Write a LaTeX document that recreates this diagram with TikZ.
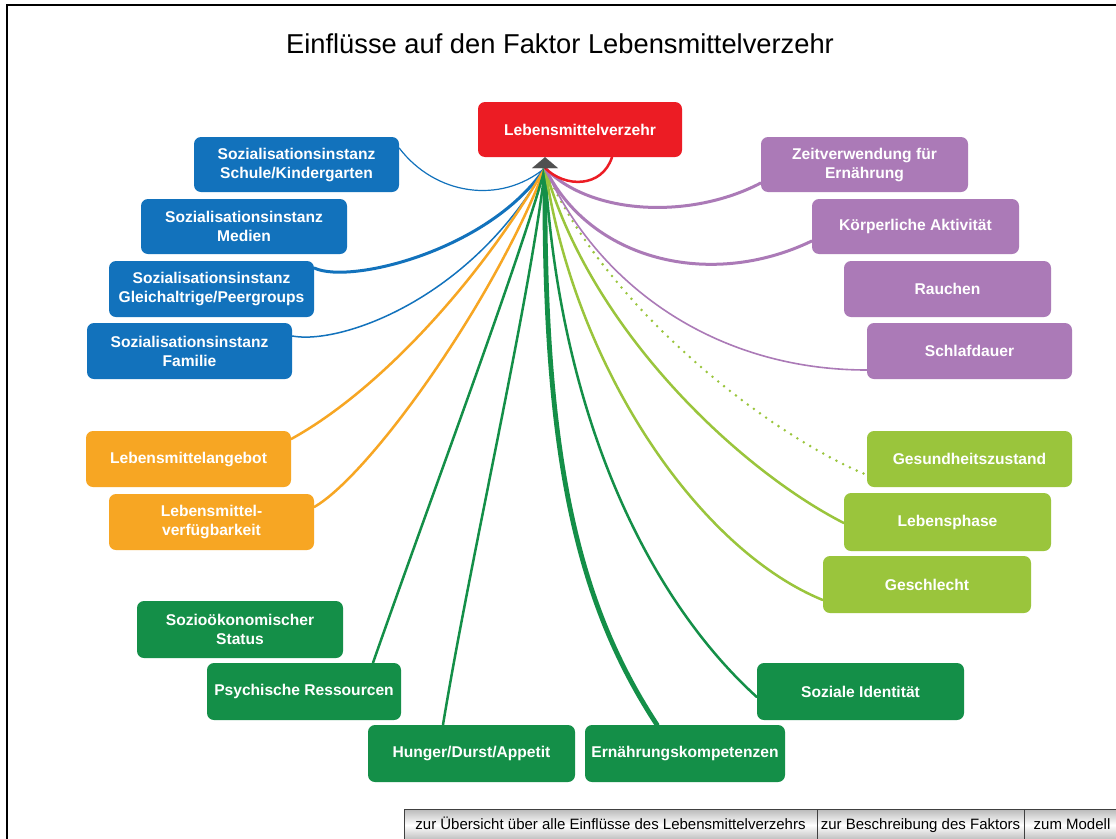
\documentclass[tikz,border=0pt]{standalone}
\usepackage{fontspec}
\setmainfont{Liberation Sans}
\usetikzlibrary{arrows.meta}

\definecolor{cred}{RGB}{236,28,36}
\definecolor{cblue}{RGB}{18,114,188}
\definecolor{cpurple}{RGB}{171,122,183}
\definecolor{corange}{RGB}{247,166,35}
\definecolor{clgreen}{RGB}{154,197,60}
\definecolor{cdgreen}{RGB}{20,143,72}
\definecolor{arrowgray}{RGB}{80,80,80}

\tikzset{
  box/.style={rounded corners=7pt, inner sep=0pt, minimum width=205pt, minimum height=56pt,
    text=white, align=center, font=\fontsize{15.6}{19}\selectfont\bfseries},
  bluebox/.style={box, fill=cblue},
  redbox/.style={box, fill=cred},
  purplebox/.style={box, fill=cpurple},
  orangebox/.style={box, fill=corange},
  lgreenbox/.style={box, fill=clgreen},
  dgreenbox/.style={box, fill=cdgreen},
  link/.style={line cap=round},
  button/.style={draw=black!75, line width=1pt, inner sep=0pt, minimum height=32pt,
    text height=11pt, text depth=3pt,
    top color=gray!55, bottom color=gray!55, middle color=white,
    font=\fontsize{15}{18}\selectfont, text=black}
}

\begin{document}
\begin{tikzpicture}[x=1pt, y=-1pt]
\useasboundingbox (0,0) rectangle (1116,838);
\fill[white] (0,0) rectangle (1116,838);

% page frame
\draw[line width=2pt, black] (7,845) -- (7,5) -- (1120,5);

% title
\node[anchor=base, font=\fontsize{27.3}{32}\selectfont] (title) at (560,53)
  {Einflüsse auf den Faktor Lebensmittelverzehr};

% central factor
\node[redbox, minimum width=204pt, minimum height=55pt] (lmv) at (580,129.5) {Lebensmittelverzehr};

% socialisation (blue)
\node[bluebox, minimum height=55pt] (schule) at (296.5,164.5) {Sozialisationsinstanz\\Schule/Kindergarten};
\node[bluebox, minimum width=206pt, minimum height=55pt] (medien) at (244,226.5) {Sozialisationsinstanz\\Medien};
\node[bluebox] (gleich) at (211.5,289) {Sozialisationsinstanz\\Gleichaltrige/Peergroups};
\node[bluebox] (familie) at (189.5,351) {Sozialisationsinstanz\\Familie};

% food supply (orange)
\node[orangebox] (angebot) at (188.5,459) {Lebensmittelangebot};
\node[orangebox] (verfueg) at (211.5,522) {Lebensmittel-\\verfügbarkeit};

% dark green factors
\node[dgreenbox, minimum width=206pt, minimum height=57pt] (sozoek) at (240,629.5) {Sozioökonomischer\\Status};
\node[dgreenbox, minimum width=194pt, minimum height=57pt] (psych) at (304,691.5) {Psychische Ressourcen};
\node[dgreenbox, minimum width=207pt, minimum height=57pt] (hunger) at (471.5,753.5) {Hunger/Durst/Appetit};
\node[dgreenbox, minimum width=200pt, minimum height=57pt] (ernaehr) at (685,753.5) {Ernährungskompetenzen};
\node[dgreenbox, minimum width=207pt, minimum height=57pt] (soziale) at (860.5,691.5) {Soziale Identität};

% behaviour (purple)
\node[purplebox, minimum width=207pt, minimum height=55pt] (zeit) at (864.5,164.5) {Zeitverwendung für\\Ernährung};
\node[purplebox, minimum width=207pt, minimum height=55pt] (koerper) at (915.5,226.5) {Körperliche Aktivität};
\node[purplebox, minimum width=207pt] (rauchen) at (947.5,289) {Rauchen};
\node[purplebox] (schlaf) at (969.5,351) {Schlafdauer};

% personal (light green)
\node[lgreenbox] (gesund) at (969.5,459) {Gesundheitszustand};
\node[lgreenbox, minimum width=207pt, minimum height=58pt] (lebensph) at (947.5,522) {Lebensphase};
\node[lgreenbox, minimum width=208pt, minimum height=57pt] (geschl) at (927,584.5) {Geschlecht};

% convergence point below the central factor
\coordinate (hub) at (545,168);

% connectors
\draw[link, cblue, line width=1.2pt] (hub) .. controls (500,205) and (435,195) .. ([yshift=16.5pt]schule.east);
\draw[link, cblue, line width=3pt] (hub) .. controls (490,250) and (350,285) .. ([yshift=21pt]gleich.east);
\draw[link, cblue, line width=1.5pt] (hub) .. controls (470,300) and (340,345) .. ([yshift=15pt]familie.east);

\draw[link, corange, line width=2.5pt] (hub) .. controls (480,280) and (380,390) .. ([yshift=20pt]angebot.east);
\draw[link, corange, line width=2.5pt] (hub) .. controls (495,300) and (370,475) .. ([yshift=15pt]verfueg.east);

\draw[link, cdgreen, line width=2.5pt] (hub) .. controls (520,260) and (430,500) .. ([xshift=69pt]psych.north);
\draw[link, cdgreen, line width=2.5pt] (hub) .. controls (530,300) and (470,560) .. ([xshift=-28.5pt]hunger.north);
\draw[link, cdgreen, line width=4.8pt] (hub) .. controls (543,450) and (575,600) .. ([xshift=-28pt]ernaehr.north);
\draw[link, cdgreen, line width=2.5pt] (hub) .. controls (560,420) and (650,600) .. ([yshift=-5.5pt]soziale.west);

\draw[link, clgreen, line width=2.5pt] (hub) .. controls (575,370) and (700,550) .. ([yshift=-15.5pt]geschl.west);
\draw[link, clgreen, line width=2.5pt] (hub) .. controls (590,330) and (740,470) .. ([yshift=-1pt]lebensph.west);
\draw[clgreen, line width=2.8pt, line cap=round, dash pattern=on 0pt off 7.5pt] (hub) .. controls (600,300) and (760,430) .. ([yshift=-16pt]gesund.west);

\draw[link, cpurple, line width=1.6pt] (hub) .. controls (600,290) and (720,370) .. ([yshift=-19pt]schlaf.west);
\draw[link, cpurple, line width=3pt] (hub) .. controls (590,260) and (710,290) .. ([yshift=-14.5pt]koerper.west);
\draw[link, cpurple, line width=3pt] (hub) .. controls (590,215) and (690,220) .. ([yshift=-18.5pt]zeit.west);

\draw[link, cred, line width=2.5pt] (hub) .. controls (565,188) and (602,188) .. ([xshift=32pt]lmv.south);

% arrow into the central factor
\draw[arrowgray, line width=0.1pt, -{Triangle[width=26pt,length=11pt]}] (hub) -- ([xshift=-35pt]lmv.south);

% navigation buttons
\node[button, minimum width=413pt] (nav1) at (610.5,825) {zur Übersicht über alle Einflüsse des Lebensmittelverzehrs};
\node[button, minimum width=207pt] (nav2) at (920.5,825) {zur Beschreibung des Faktors};
\node[button, minimum width=96pt] (nav3) at (1072,825) {zum Modell};
\end{tikzpicture}
\end{document}
